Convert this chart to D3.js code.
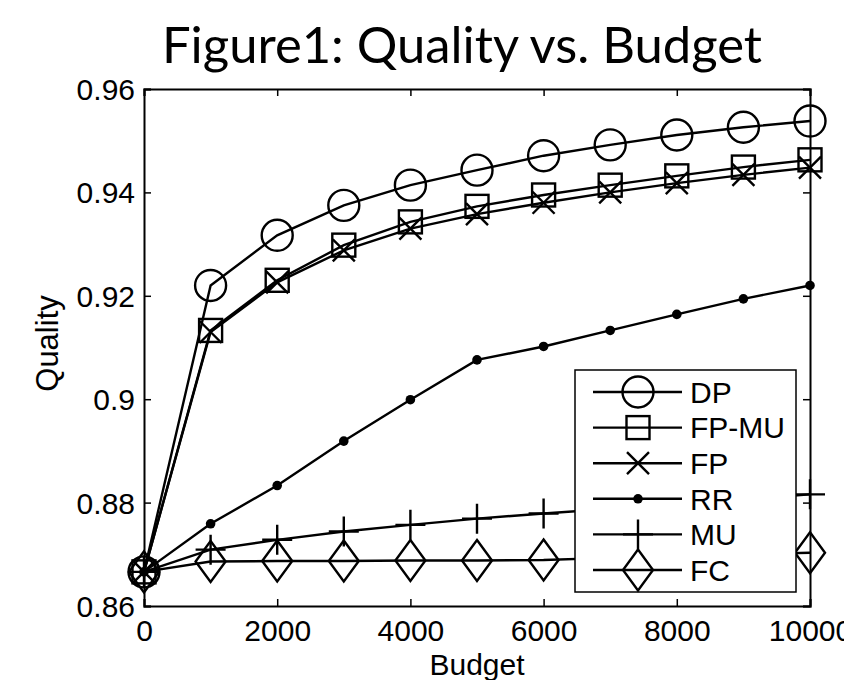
<!DOCTYPE html>
<html>
<head>
<meta charset="utf-8">
<script src="https://cdn.jsdelivr.net/npm/d3@7"></script>
<style>
  body { margin: 0; background: #fff; }
  .chart text { fill: #000; }
</style>
</head>
<body>
<div class="chart"></div>
<script>
// data -----------------------------------------------------
const budget = [0, 1000, 2000, 3000, 4000, 5000, 6000, 7000, 8000, 9000, 10000];
const dp   = [0.8666, 0.9220, 0.9317, 0.9375, 0.9414, 0.9443, 0.9471, 0.9492, 0.9511, 0.9526, 0.9538];
const fpmu = [0.8666, 0.9133, 0.9230, 0.9298, 0.9343, 0.9373, 0.9395, 0.9414, 0.9432, 0.9449, 0.9463];
const fp   = [0.8666, 0.9130, 0.9226, 0.9288, 0.9330, 0.9358, 0.9380, 0.9400, 0.9418, 0.9434, 0.9448];
const rr   = [0.8666, 0.8759, 0.8833, 0.8919, 0.8999, 0.9076, 0.9102, 0.9133, 0.9164, 0.9194, 0.9220];
const mu   = [0.8666, 0.8709, 0.8728, 0.8744, 0.8757, 0.8769, 0.8779, 0.8788, 0.8797, 0.8806, 0.8816];
const fc   = [0.8666, 0.8686, 0.8687, 0.8687, 0.8688, 0.8688, 0.8689, 0.8693, 0.8697, 0.8700, 0.8703];

const seriesNames = ['DP', 'FP-MU', 'FP', 'RR', 'MU', 'FC'];
const markerTypes = ['circle', 'square', 'x', 'dot', 'plus', 'diamond'];
const seriesValues = [dp, fpmu, fp, rr, mu, fc];

const xTicks = [0, 2000, 4000, 6000, 8000, 10000];
const yTicks = [0.86, 0.88, 0.9, 0.92, 0.94, 0.96];
const yTickLabels = ['0.86', '0.88', '0.9', '0.92', '0.94', '0.96'];

const W = 844, H = 680;
const margin = { top: 89, right: 34, bottom: 74, left: 144 };
const width = W - margin.left - margin.right;
const height = H - margin.top - margin.bottom;
const axisFont = '"Liberation Sans", Arial, sans-serif';

const svg = d3.select('.chart')
  .append('svg')
  .attr('width', W)
  .attr('height', H);

const chart = svg.append('g')
  .attr('transform', `translate(${margin.left},${margin.top})`);

const xScale = d3.scaleLinear().domain([0, 10000]).range([0, width]);
const yScale = d3.scaleLinear().domain([0.86, 0.96]).range([height, 0]);

// marker shapes, drawn around (0,0)
function drawMarker(g, type) {
  const sw = 2.4;
  if (type === 'circle') {
    g.append('circle').attr('r', 15.5).attr('fill', 'none').attr('stroke', '#000').attr('stroke-width', sw);
  } else if (type === 'square') {
    g.append('rect').attr('x', -11.5).attr('y', -11.5).attr('width', 23).attr('height', 23)
      .attr('fill', 'none').attr('stroke', '#000').attr('stroke-width', sw);
  } else if (type === 'x') {
    g.append('path').attr('d', 'M-11,-11L11,11M-11,11L11,-11')
      .attr('stroke', '#000').attr('stroke-width', sw);
  } else if (type === 'dot') {
    g.append('circle').attr('r', 4.8).attr('fill', '#000');
  } else if (type === 'plus') {
    g.append('path').attr('d', 'M-15,0L15,0M0,-15L0,15')
      .attr('stroke', '#000').attr('stroke-width', sw);
  } else if (type === 'diamond') {
    g.append('path').attr('d', 'M0,-20.5L15,0L0,20.5L-15,0Z')
      .attr('fill', 'none').attr('stroke', '#000').attr('stroke-width', sw);
  }
}

// lines + markers ------------------------------------------
const line = d3.line()
  .x((d, i) => xScale(budget[i]))
  .y(d => yScale(d));

seriesValues.forEach((vals, s) => {
  chart.append('path')
    .attr('d', line(vals))
    .attr('fill', 'none')
    .attr('stroke', '#000')
    .attr('stroke-width', 2.4);

  chart.selectAll(null)
    .data(vals)
    .enter()
    .append('g')
    .attr('transform', (d, i) => `translate(${xScale(budget[i])},${yScale(d)})`)
    .each(function() { drawMarker(d3.select(this), markerTypes[s]); });
});

// axes (ticks pointing inward, box on) ----------------------
const tickLen = -7;
const xAxisG = chart.append('g')
  .attr('transform', `translate(0,${height})`)
  .call(d3.axisBottom(xScale).tickValues(xTicks).tickFormat(d => d).tickSize(tickLen).tickPadding(14));
const yAxisG = chart.append('g')
  .call(d3.axisLeft(yScale).tickValues(yTicks).tickFormat((d, i) => yTickLabels[i]).tickSize(tickLen).tickPadding(9));
chart.append('g')
  .call(d3.axisTop(xScale).tickValues(xTicks).tickFormat('').tickSize(tickLen));
chart.append('g')
  .attr('transform', `translate(${width},0)`)
  .call(d3.axisRight(yScale).tickValues(yTicks).tickFormat('').tickSize(tickLen));

chart.selectAll('.domain').attr('stroke', '#000').attr('stroke-width', 2);
chart.selectAll('.tick line').attr('stroke', '#000').attr('stroke-width', 1.5);
[xAxisG, yAxisG].forEach(g => g.selectAll('text')
  .attr('font-family', axisFont)
  .attr('font-size', 30)
  .attr('fill', '#000'));
xAxisG.selectAll('text').attr('dy', '0.71em');
yAxisG.selectAll('text').attr('dy', '0.35em');

// legend -----------------------------------------------------
const legend = svg.append('g').attr('transform', 'translate(575,370)');
legend.append('rect')
  .attr('width', 221)
  .attr('height', 222)
  .attr('fill', '#fff')
  .attr('stroke', '#000')
  .attr('stroke-width', 1.5);

seriesNames.forEach((name, i) => {
  const row = legend.append('g').attr('transform', `translate(0,${22 + i * 35.6})`);
  row.append('line')
    .attr('x1', 18).attr('x2', 107)
    .attr('stroke', '#000').attr('stroke-width', 2.4);
  drawMarker(row.append('g').attr('transform', 'translate(63,0)'), markerTypes[i]);
  row.append('text')
    .attr('x', 115)
    .attr('dy', '0.36em')
    .attr('font-family', axisFont)
    .attr('font-size', 30)
    .text(name);
});

// title and axis labels --------------------------------------
svg.append('text')
  .attr('x', 462)
  .attr('y', 63)
  .attr('text-anchor', 'middle')
  .attr('font-family', 'Lato, "Open Sans", sans-serif')
  .attr('font-size', 51)
  .attr('textLength', 600)
  .attr('lengthAdjust', 'spacingAndGlyphs')
  .text('Figure1: Quality vs. Budget');

svg.append('text')
  .attr('x', margin.left + width / 2)
  .attr('y', 675)
  .attr('text-anchor', 'middle')
  .attr('font-family', axisFont)
  .attr('font-size', 30)
  .text('Budget');

svg.append('text')
  .attr('transform', `translate(58,${margin.top + height / 2 - 4}) rotate(-90)`)
  .attr('text-anchor', 'middle')
  .attr('font-family', axisFont)
  .attr('font-size', 31)
  .text('Quality');
</script>
</body>
</html>
